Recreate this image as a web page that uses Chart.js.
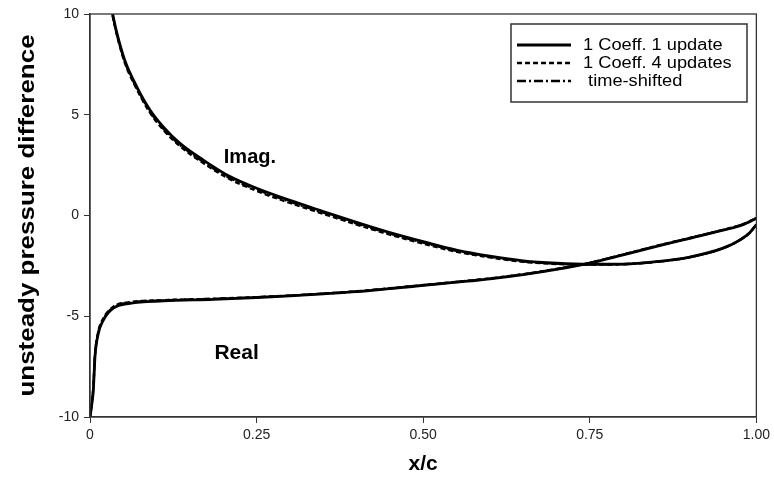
<!DOCTYPE html>
<html>
<head>
<meta charset="utf-8">
<script src="https://cdn.jsdelivr.net/npm/chart.js@4/dist/chart.umd.min.js"></script>
<style>
  html,body{margin:0;padding:0;background:#fff;}
  #wrap{width:774px;height:483px;position:relative;}
</style>
</head>
<body>
<div id="wrap"><canvas id="c" width="774" height="483"></canvas></div>
<script>
// ── data ──
const X_TICKS = [0, 0.25, 0.5, 0.75, 1.0];
const X_TICK_LABELS = ['0', '0.25', '0.50', '0.75', '1.00'];
const Y_TICKS = [-10, -5, 0, 5, 10];

const REAL_X = [0, 0.003, 0.005, 0.0075, 0.0125, 0.02, 0.035, 0.06, 0.11, 0.185, 0.25, 0.3, 0.35, 0.4, 0.45, 0.5, 0.55, 0.6, 0.65, 0.7, 0.75, 0.8, 0.85, 0.9, 0.95, 0.98, 1.0];
const REAL_1U = [-10, -9.3, -8.66, -7.0, -5.85, -5.19, -4.6, -4.36, -4.24, -4.16, -4.07, -3.99, -3.89, -3.78, -3.63, -3.47, -3.31, -3.14, -2.93, -2.67, -2.36, -1.95, -1.53, -1.13, -0.73, -0.45, -0.14];
const REAL_4U = [-10, -9.2, -8.5, -6.9, -5.75, -5.1, -4.52, -4.3, -4.2, -4.13, -4.05, -3.97, -3.87, -3.76, -3.61, -3.45, -3.29, -3.12, -2.91, -2.65, -2.35, -1.93, -1.51, -1.11, -0.71, -0.43, -0.12];
const REAL_TS = [-10, -9.25, -8.6, -6.95, -5.8, -5.15, -4.55, -4.32, -4.21, -4.14, -4.06, -3.98, -3.88, -3.77, -3.62, -3.46, -3.3, -3.13, -2.92, -2.66, -2.35, -1.94, -1.52, -1.12, -0.72, -0.44, -0.13];

const IMAG_X = [0.025, 0.034, 0.04, 0.052, 0.07, 0.09, 0.11, 0.135, 0.17, 0.21, 0.25, 0.3, 0.35, 0.4, 0.45, 0.5, 0.55, 0.6, 0.65, 0.7, 0.75, 0.8, 0.85, 0.9, 0.95, 0.975, 0.99, 1.0];
const IMAG_1U = [11.6, 10, 9.1, 7.72, 6.4, 5.24, 4.4, 3.58, 2.75, 1.93, 1.35, 0.75, 0.2, -0.34, -0.85, -1.3, -1.72, -2.02, -2.25, -2.37, -2.42, -2.41, -2.29, -2.06, -1.62, -1.22, -0.85, -0.45];
const IMAG_4U = [11.5, 9.9, 9.0, 7.6, 6.28, 5.1, 4.25, 3.44, 2.6, 1.8, 1.22, 0.62, 0.08, -0.45, -0.95, -1.4, -1.8, -2.08, -2.3, -2.41, -2.44, -2.42, -2.3, -2.07, -1.63, -1.23, -0.86, -0.46];
const IMAG_TS = [11.55, 9.95, 9.05, 7.66, 6.33, 5.16, 4.31, 3.5, 2.66, 1.86, 1.28, 0.68, 0.14, -0.4, -0.9, -1.35, -1.76, -2.05, -2.27, -2.39, -2.43, -2.41, -2.3, -2.07, -1.62, -1.22, -0.85, -0.45];

const LEGEND_LABELS = ['1 Coeff. 1 update', '1 Coeff. 4 updates', ' time-shifted'];
const DASHES = [[], [5, 3], [9, 3, 2, 3]];
const WIDTHS = [2.8, 2.3, 2.3];
const FONT = '"Liberation Sans", Arial, sans-serif';

function pts(xs, ys){ return xs.map((x, i) => ({x, y: ys[i]})); }

const series = [
  {label: LEGEND_LABELS[0], x: REAL_X, y: REAL_1U, k: 0},
  {label: LEGEND_LABELS[1], x: REAL_X, y: REAL_4U, k: 1},
  {label: LEGEND_LABELS[2], x: REAL_X, y: REAL_TS, k: 2},
  {label: '', x: IMAG_X, y: IMAG_1U, k: 0},
  {label: '', x: IMAG_X, y: IMAG_4U, k: 1},
  {label: '', x: IMAG_X, y: IMAG_TS, k: 2},
];

const datasets = series.map(s => ({
  label: s.label,
  data: pts(s.x, s.y),
  borderColor: '#000',
  borderWidth: WIDTHS[s.k],
  borderDash: DASHES[s.k],
  pointRadius: 0,
  fill: false,
  cubicInterpolationMode: 'monotone',
}));

// text drawn a bit wider than the font, like the old bitmap output
function wideText(ctx, txt, x, y, sx, rot){
  ctx.save();
  ctx.translate(x, y);
  if(rot) ctx.rotate(rot);
  ctx.scale(sx, 1);
  ctx.fillText(txt, 0, 0);
  ctx.restore();
}

// frame, axis titles, curve labels, legend box
const extras = {
  id: 'extras',
  afterDatasetsDraw(chart){
    const {ctx, chartArea: a, scales} = chart;
    ctx.save();
    ctx.strokeStyle = '#333';
    ctx.lineWidth = 1.3;
    ctx.strokeRect(a.left, a.top, a.right - a.left, a.bottom - a.top);

    ctx.fillStyle = '#000';
    ctx.textAlign = 'center';
    ctx.textBaseline = 'middle';
    ctx.font = `bold 22px ${FONT}`;
    wideText(ctx, 'unsteady pressure difference', 28, (a.top + a.bottom) / 2, 1.18, -Math.PI / 2);
    ctx.font = `bold 21px ${FONT}`;
    wideText(ctx, 'x/c', (a.left + a.right) / 2, 464, 1.0, 0);

    ctx.font = `bold 20px ${FONT}`;
    wideText(ctx, 'Imag.', scales.x.getPixelForValue(0.24), scales.y.getPixelForValue(2.9), 1.0, 0);
    wideText(ctx, 'Real', scales.x.getPixelForValue(0.22), scales.y.getPixelForValue(-6.85), 1.05, 0);

    // legend
    const bx = 511, by = 24, bw = 236, bh = 78;
    ctx.fillStyle = '#fff';
    ctx.fillRect(bx, by, bw, bh);
    ctx.strokeStyle = '#333';
    ctx.lineWidth = 1.5;
    ctx.strokeRect(bx, by, bw, bh);
    ctx.font = `16px ${FONT}`;
    ctx.textAlign = 'left';
    LEGEND_LABELS.forEach((lab, i) => {
      const y = by + 21 + i * 18;
      ctx.strokeStyle = '#000';
      ctx.lineWidth = WIDTHS[i];
      ctx.setLineDash(DASHES[i]);
      ctx.beginPath(); ctx.moveTo(bx + 6, y); ctx.lineTo(bx + 60, y); ctx.stroke();
      ctx.setLineDash([]);
      ctx.fillStyle = '#000';
      wideText(ctx, lab, bx + 72, y + 1, 1.14, 0);
    });
    ctx.restore();
  }
};

new Chart(document.getElementById('c'), {
  type: 'line',
  data: {datasets},
  options: {
    responsive: false,
    animation: false,
    layout: {padding: {left: 0, right: 16, top: 14, bottom: 0}},
    plugins: {legend: {display: false}, tooltip: {enabled: false}},
    scales: {
      x: {
        type: 'linear', min: 0, max: 1,
        afterBuildTicks: s => { s.ticks = X_TICKS.map(v => ({value: v})); },
        afterFit: s => { s.height = 66; },
        ticks: {
          color: '#222', font: {size: 14, family: FONT},
          padding: 4, maxRotation: 0,
          callback: (v) => X_TICK_LABELS[X_TICKS.indexOf(v)]
        },
        grid: {display: true, drawOnChartArea: false, drawTicks: true, tickLength: 6, color: '#333'},
        border: {display: true, color: '#333', width: 1.3}
      },
      y: {
        type: 'linear', min: -10, max: 10,
        afterBuildTicks: s => { s.ticks = Y_TICKS.map(v => ({value: v})); },
        afterFit: s => { s.width = 90; },
        ticks: {color: '#222', font: {size: 14, family: FONT}, padding: 5},
        grid: {display: true, drawOnChartArea: false, drawTicks: true, tickLength: 6, color: '#333'},
        border: {display: true, color: '#333', width: 1.3}
      }
    }
  },
  plugins: [extras]
});
</script>
</body>
</html>
